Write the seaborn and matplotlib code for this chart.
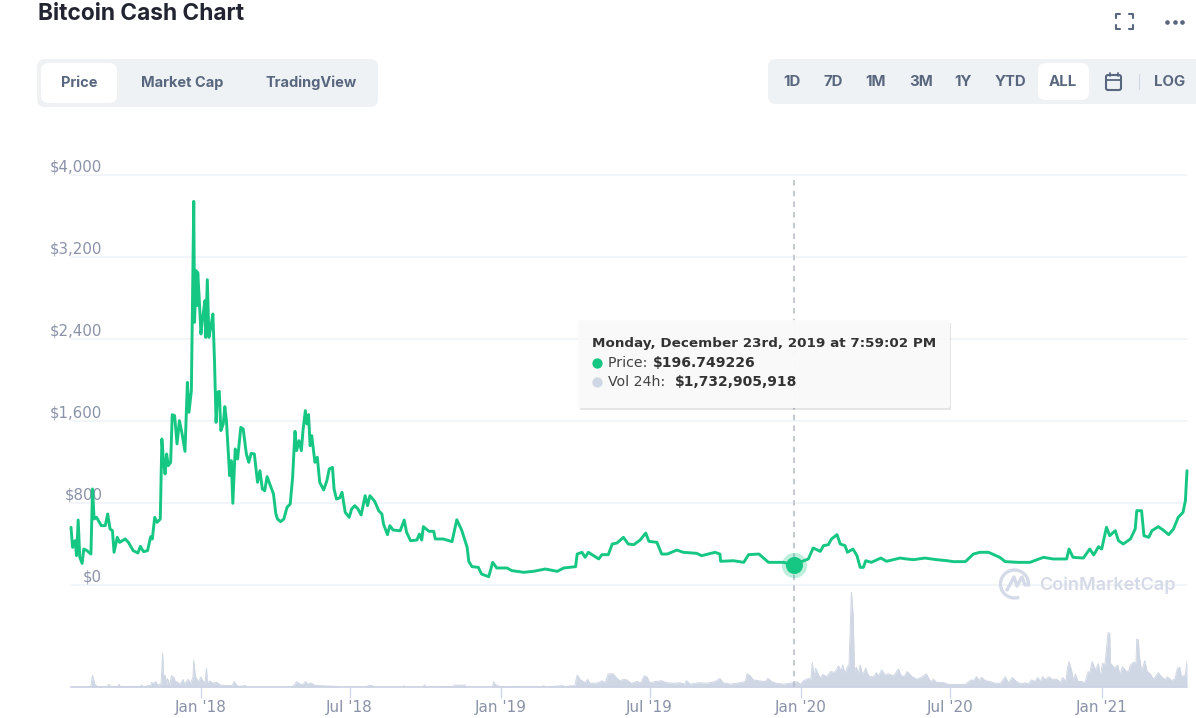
import pandas as pd
import numpy as np
import matplotlib.pyplot as plt
import seaborn as sns
from matplotlib.patches import FancyBboxPatch, Rectangle, Arc

# -------------------------------
# Data
# -------------------------------
START_DATE = "2017-07-27"
DAYS_PER_STEP = 0.97  # one step along the time axis of the lists below

price_steps = [
    0, 2, 5, 7, 9, 11, 14, 16, 20, 25, 27, 29, 32, 38, 43, 46, 49, 52, 54, 58, 61, 68, 72, 78, 84, 87, 91, 96,
    100, 102, 105, 108, 112, 114, 116, 118, 120, 122, 125, 127, 130, 133, 136, 139, 143, 146, 148, 151, 154,
    155, 157, 158, 159, 161, 163, 165, 168, 169, 171, 173, 175, 178, 180, 182, 184, 186, 188, 191, 193, 195,
    199, 201, 203, 206, 209, 213, 216, 220, 223, 226, 230, 234, 237, 240, 243, 246, 251, 254, 257, 259, 263,
    267, 271, 275, 278, 281, 283, 286, 289, 291, 294, 296, 298, 300, 302, 306, 309, 312, 317, 321, 324, 328,
    330, 333, 337, 340, 344, 349, 352, 356, 360, 364, 369, 372, 375, 381, 386, 390, 392, 397, 400, 404, 411,
    413, 418, 421, 426, 434, 437, 440, 442, 449, 455, 457, 467, 478, 484, 490, 497, 499, 503, 511, 515, 524,
    529, 534, 547, 553, 568, 580, 595, 610, 618, 633, 635, 641, 645, 649, 662, 666, 674, 679, 685, 693, 699,
    706, 714, 721, 725, 735, 741, 748, 760, 768, 785, 791, 808, 814, 815, 831, 844, 850, 863, 875, 894, 906,
    925, 931, 940, 944, 950, 954, 961, 965, 971, 974, 981, 986, 990, 994, 997, 1004, 1016, 1023, 1040, 1048,
    1057, 1071, 1086, 1099, 1107, 1122, 1132, 1140, 1151, 1165, 1172, 1188, 1203, 1220, 1232, 1249, 1252,
    1257, 1270, 1278, 1283, 1289, 1293, 1299, 1303, 1310, 1314, 1320, 1329, 1335, 1337, 1343, 1346, 1352,
    1356, 1364, 1370, 1377, 1383, 1389, 1395, 1398, 1400,
]
price_usd = [
    563, 367, 432, 286, 634, 270, 211, 351, 335, 302, 937, 644, 660, 579, 579, 693, 546, 530, 319, 465, 416,
    449, 416, 335, 312, 377, 325, 335, 472, 449, 660, 611, 644, 1424, 1213, 1083, 1278, 1164, 1197, 1662,
    1652, 1376, 1603, 1489, 1304, 1977, 1685, 1896, 3743, 2563, 3067, 2725, 3050, 2774, 2449, 2595, 2774,
    2416, 2979, 2416, 2498, 2644, 2189, 1587, 1880, 1889, 1506, 1571, 1740, 1603, 1067, 1213, 797, 1327,
    1229, 1538, 1522, 1278, 1197, 1285, 1278, 1002, 1115, 937, 920, 1057, 953, 888, 693, 644, 618, 644, 758,
    790, 1050, 1499, 1311, 1408, 1311, 1506, 1701, 1571, 1662, 1359, 1457, 1197, 1246, 1002, 927, 1018, 1132,
    1148, 937, 839, 849, 904, 709, 660, 741, 774, 741, 683, 872, 774, 872, 816, 725, 693, 595, 491, 579, 537,
    530, 530, 634, 514, 432, 439, 497, 439, 569, 524, 524, 449, 449, 423, 637, 537, 367, 231, 179, 172, 107,
    81, 221, 166, 166, 140, 124, 133, 156, 133, 166, 179, 302, 319, 270, 319, 254, 296, 296, 400, 410, 465,
    400, 393, 439, 507, 426, 416, 302, 302, 341, 319, 309, 286, 319, 302, 231, 237, 221, 296, 302, 221, 221,
    197, 254, 361, 328, 384, 393, 449, 491, 400, 384, 319, 351, 286, 172, 172, 237, 221, 263, 231, 263, 254,
    247, 263, 247, 237, 228, 228, 302, 319, 319, 270, 228, 221, 221, 270, 254, 254, 351, 270, 263, 351, 293,
    374, 351, 563, 481, 530, 433, 400, 449, 546, 725, 725, 481, 465, 530, 569, 537, 491, 546, 660, 709, 823,
    1115,
]

volume_steps_early = [
    0, 25, 27, 28, 30, 33, 46, 47, 50, 59, 60, 62, 87, 89, 90, 100, 101, 104, 106, 109, 113, 115, 116, 118,
    120, 121, 124, 126, 129, 131, 133, 136, 141, 142, 147, 150, 153, 154, 156, 160, 163, 165, 168, 170, 171,
    174, 178, 183, 187, 196, 202, 205, 207, 210, 219, 221, 277, 281, 283, 288, 291, 294, 297, 301, 306, 320,
    333, 338, 369, 374, 378, 380, 416, 417, 419, 442, 443, 446, 479, 482, 489, 494, 496, 529, 530, 532, 537,
    591, 593, 595, 618, 619,
]
volume_bn_early = [
    0.1, 0.1, 4.1, 2.9, 0.9, 0.2, 0.1, 0.9, 0.2, 0.2, 0.9, 0.2, 0.2, 0.7, 0.1, 0.6, 1.6, 1.2, 1.9, 0.6, 1.2,
    11.9, 4.2, 4.1, 0.9, 3.0, 0.6, 4.0, 3.3, 1.8, 1.9, 0.9, 2.6, 0.9, 2.7, 1.2, 3.5, 9.4, 3.7, 1.8, 3.5, 2.3,
    1.4, 6.6, 1.4, 2.1, 1.4, 1.6, 0.7, 0.5, 0.5, 1.9, 0.9, 0.2, 0.5, 0.0, 0.0, 0.9, 1.9, 0.9, 0.9, 1.9, 1.0,
    1.4, 0.6, 0.35, 0.2, 0.0, 0.1, 0.5, 0.5, 0.0, 0.0, 0.5, 0.0, 0.0, 0.7, 0.1, 0.2, 0.7, 0.6, 0.7, 0.0, 0.0,
    1.9, 0.9, 0.2, 0.1, 0.5, 0.0, 0.5, 0.0,
]
volume_steps_2019 = [
    626, 632, 635, 639, 645, 648, 651, 656, 662, 666, 670, 674, 680, 685, 689, 693, 697, 703, 710, 715, 719,
    723, 726, 733, 741, 747, 756, 764, 770, 772, 777, 787, 797, 808, 814, 818, 827, 835, 846, 848, 852, 856,
    862, 871, 874, 879, 885, 894,
]
volume_bn_2019 = [
    0.4, 0.4, 4.2, 2.5, 1.5, 2.7, 1.3, 1.3, 1.5, 2.2, 1.5, 4.6, 4.6, 3.0, 2.2, 2.7, 2.5, 1.3, 1.9, 1.5, 3.9,
    3.4, 1.5, 1.9, 2.2, 1.5, 1.3, 1.5, 1.0, 2.2, 1.0, 1.5, 1.3, 1.9, 3.0, 1.5, 1.0, 1.3, 1.9, 4.6, 3.9, 2.5,
    2.2, 1.9, 3.0, 1.9, 1.3, 1.0,
]
volume_steps_2020 = [
    902, 910, 915, 919, 925, 928, 930, 932, 934, 938, 940, 943, 948, 953, 958, 963, 966, 968, 971, 974, 976,
    979, 981, 983, 985, 988, 990, 993, 997, 999, 1002, 1007, 1010, 1013, 1017, 1021, 1025, 1032, 1038, 1041,
    1045, 1049, 1055, 1061, 1067, 1073, 1078, 1082, 1086, 1094, 1101, 1111, 1122, 1129, 1132, 1136, 1140,
    1142, 1147,
]
volume_bn_2020 = [
    1.3, 1.9, 1.0, 2.2, 3.0, 2.5, 8.5, 3.6, 6.6, 4.2, 3.0, 4.4, 3.6, 5.4, 5.1, 7.4, 5.4, 7.7, 4.8, 7.1, 7.7,
    33.2, 25.7, 5.4, 6.9, 4.8, 7.7, 4.2, 6.6, 4.8, 3.6, 3.6, 5.0, 3.9, 6.0, 4.2, 4.6, 3.9, 6.3, 4.2, 3.6,
    5.4, 3.6, 2.7, 3.4, 4.6, 1.9, 2.7, 1.6, 1.6, 0.9, 0.9, 0.9, 2.5, 2.2, 3.6, 2.2, 3.4, 2.2,
]
volume_steps_2021 = [
    1153, 1159, 1166, 1172, 1176, 1181, 1186, 1191, 1197, 1201, 1205, 1209, 1213, 1216, 1219, 1222, 1227, 1230,
    1237, 1241, 1244, 1248, 1250, 1252, 1255, 1258, 1260, 1263, 1268, 1272, 1276, 1278, 1281, 1285, 1289, 1291,
    1294, 1297, 1301, 1303, 1304, 1309, 1313, 1316, 1319, 1324, 1327, 1329, 1333, 1336, 1337, 1339, 1340, 1343,
    1347, 1350, 1354, 1358, 1362, 1364, 1368, 1373, 1375, 1381, 1385, 1388, 1391, 1393, 1398, 1400,
]
volume_bn_2021 = [
    1.9, 1.3, 1.3, 3.6, 1.5, 3.3, 1.9, 1.1, 1.5, 1.1, 2.5, 1.9, 3.3, 1.9, 3.6, 2.5, 3.6, 2.7, 2.7, 1.5, 3.3,
    1.9, 6.6, 8.9, 6.0, 1.9, 4.6, 1.9, 1.9, 1.5, 5.4, 4.8, 8.9, 6.0, 8.1, 3.6, 8.3, 7.7, 19.0, 18.8, 8.3, 6.6,
    7.7, 4.2, 7.1, 5.4, 5.7, 7.7, 8.7, 8.3, 16.7, 16.5, 11.2, 5.4, 9.2, 5.4, 4.6, 2.7, 4.2, 5.0, 3.6, 2.5, 3.6,
    2.2, 3.0, 6.6, 6.9, 3.6, 4.2, 8.9,
]

y_ticks = [0, 800, 1600, 2400, 3200, 4000]
y_tick_labels = ["$0", "$800", "$1,600", "$2,400", "$3,200", "$4,000"]
x_tick_dates = ["2018-01-01", "2018-07-01", "2019-01-01", "2019-07-01", "2020-01-01", "2020-07-01", "2021-01-01"]
x_tick_labels = ["Jan '18", "Jul '18", "Jan '19", "Jul '19", "Jan '20", "Jul '20", "Jan '21"]

hover_date = "2019-12-23 19:59:02"
hover_price = 196.749226

left_tabs = ["Price", "Market Cap", "TradingView"]
right_tabs = ["1D", "7D", "1M", "3M", "1Y", "YTD", "ALL"]

GREEN = "#16c784"
GRID = "#eff2f5"
SLATE = "#58667e"
VOL = "#cfd6e4"

# ------------------------------------------------
# Build the tables
# ------------------------------------------------
start = pd.Timestamp(START_DATE)
volume_steps = volume_steps_early + volume_steps_2019 + volume_steps_2020 + volume_steps_2021
volume_bn = volume_bn_early + volume_bn_2019 + volume_bn_2020 + volume_bn_2021
df_price = pd.DataFrame({
    "Date": start + pd.to_timedelta(np.array(price_steps) * DAYS_PER_STEP, unit="D"),
    "Price": price_usd,
})
df_vol = pd.DataFrame({
    "Date": start + pd.to_timedelta(np.array(volume_steps) * DAYS_PER_STEP, unit="D"),
    "Volume": volume_bn,
})
x_end = start + pd.Timedelta(days=1400 * DAYS_PER_STEP)

sns.set_theme(style="white")
plt.rcParams["font.family"] = ["DejaVu Sans"]

W, H = 1196, 718
fig = plt.figure(figsize=(W / 100, H / 100), dpi=100, facecolor="white")


def axes_from_pixels(x0, y0, x1, y1):
    return fig.add_axes([x0 / W, 1 - y1 / H, (x1 - x0) / W, (y1 - y0) / H])


# ------------------------------------------------
# Volume panel
# ------------------------------------------------
ax_vol = axes_from_pixels(71, 592, 1187, 687)
ax_vol.patch.set_alpha(0)
ax_vol.fill_between(df_vol["Date"], df_vol["Volume"], color=VOL, linewidth=0)
sns.lineplot(data=df_vol, x="Date", y="Volume", color=VOL, linewidth=0.7, ax=ax_vol)
ax_vol.set_xlim(start, x_end)
ax_vol.set_ylim(0, 33.2)
ax_vol.set_xlabel("")
ax_vol.set_ylabel("")
ax_vol.set_yticks([])
ax_vol.set_xticks(pd.to_datetime(x_tick_dates))
ax_vol.set_xticklabels(x_tick_labels)
ax_vol.tick_params(axis="x", length=8, width=0.9, color="#ccd6eb", pad=1.5, labelsize=11, labelcolor="#8a92a8", bottom=True)
sns.despine(ax=ax_vol, left=True)
ax_vol.spines["bottom"].set_color("#ccd3e3")
ax_vol.spines["bottom"].set_linewidth(1.2)

# ------------------------------------------------
# Price panel
# ------------------------------------------------
ax = axes_from_pixels(71, 175, 1187, 585)
ax.patch.set_alpha(0)
sns.lineplot(data=df_price, x="Date", y="Price", color=GREEN, linewidth=2.1, ax=ax, zorder=4, clip_on=False)
ax.set_xlim(start, x_end)
ax.set_ylim(0, 4000)
ax.set_xlabel("")
ax.set_ylabel("")
ax.set_xticks([])
ax.set_yticks(y_ticks)
ax.set_yticklabels(y_tick_labels)
ax.yaxis.grid(True, color=GRID, linewidth=1.1)
ax.tick_params(axis="y", length=0, pad=-22.5, labelsize=10.8, labelcolor="#8a92a8")
for label in ax.get_yticklabels():
    label.set_va("bottom")
sns.despine(ax=ax, left=True, bottom=True)
for line in ax.get_ygridlines():
    line.set_clip_on(False)

# crosshair runs down to the volume baseline, under the marker
hover_x = pd.Timestamp(hover_date)
ax.axvline(hover_x, ymin=-102 / 410, ymax=1, color="#b9bfce", lw=1.2, ls=(0, (3.4, 3)), zorder=3, clip_on=False)
ax.scatter([hover_x], [hover_price], s=330, color=GREEN, alpha=0.28, linewidths=0, zorder=5, clip_on=False)
ax.scatter([hover_x], [hover_price], s=150, color=GREEN, linewidths=0, zorder=6, clip_on=False)

# ------------------------------------------------
# Page overlay (pixel coordinates)
# ------------------------------------------------
ui = fig.add_axes([0, 0, 1, 1], zorder=10)
ui.set_xlim(0, W)
ui.set_ylim(H, 0)
ui.axis("off")
ui.patch.set_alpha(0)


def round_box(x0, y0, x1, y1, color, radius=8, z=1):
    ui.add_patch(FancyBboxPatch((x0 + radius, y0 + radius), x1 - x0 - 2 * radius, y1 - y0 - 2 * radius,
                                boxstyle=f"round,pad={radius},rounding_size={radius}",
                                facecolor=color, edgecolor="none", zorder=z))


ui.text(38, 14, "Bitcoin Cash Chart", family="Inter", fontsize=16.35, fontweight="bold", color="#222531", va="center")

# left tab group
round_box(37, 59, 378, 107, GRID)
round_box(41, 63, 117, 103, "white", z=2)
for name, cx in zip(left_tabs, [79, 182, 311]):
    ui.text(cx, 83, name, family="Inter", fontsize=10.5, fontweight="bold", color=SLATE, ha="center", va="center", zorder=3)

# right tab group
round_box(768, 59, 1204, 104, GRID)
round_box(1038, 63, 1089, 100, "white", z=2)
for name, cx in zip(right_tabs, [792, 833, 876, 921, 963, 1011, 1063]):
    ui.text(cx, 82, name, family="Inter", fontsize=10.8, fontweight="bold", color=SLATE, ha="center", va="center", zorder=3)
ui.text(1170, 82, "LOG", family="Inter", fontsize=10.8, fontweight="bold", color=SLATE, ha="center", va="center", zorder=3)
ui.plot([1139, 1139], [74, 89], color="#cfd6e4", lw=0.8, zorder=3)

# calendar icon
ui.add_patch(FancyBboxPatch((1106, 75), 15, 15, boxstyle="round,pad=0,rounding_size=2", facecolor="none", edgecolor=SLATE, lw=1.5, zorder=3))
ui.plot([1106, 1121], [80, 80], color=SLATE, lw=1.3, zorder=3)
ui.plot([1109.5, 1109.5], [72.5, 76], color=SLATE, lw=1.3, zorder=3)
ui.plot([1117.5, 1117.5], [72.5, 76], color=SLATE, lw=1.3, zorder=3)

# fullscreen icon and the three dots
for cx, cy, dx, dy in [(1116, 14, 1, 1), (1133, 14, -1, 1), (1116, 29, 1, -1), (1133, 29, -1, -1)]:
    ui.plot([cx + 4 * dx, cx, cx], [cy, cy, cy + 4 * dy], color=SLATE, lw=1.5, zorder=3)
ui.scatter([1167, 1174.5, 1182], [21.5, 21.5, 21.5], s=11, color=SLATE, linewidths=0, zorder=3)

# tooltip
ui.add_patch(Rectangle((580, 323), 371, 87, facecolor="#000000", alpha=0.10, edgecolor="none", zorder=2))
ui.add_patch(FancyBboxPatch((578, 320), 372, 88, boxstyle="round,pad=0,rounding_size=2", facecolor="#fafafa", alpha=0.96, edgecolor="none", zorder=3))
ui.text(592, 343, "Monday, December 23rd, 2019 at 7:59:02 PM", fontsize=9.7, fontweight="bold", color="#333333", va="center", zorder=4)
ui.scatter([597], [363], s=55, color=GREEN, linewidths=0, zorder=4)
ui.text(608, 363, "Price: ", fontsize=10.2, color="#444444", va="center", zorder=4)
ui.text(653, 363, "$196.749226", fontsize=10.1, fontweight="bold", color="#333333", va="center", zorder=4)
ui.scatter([597], [382], s=55, color="#cfd6e4", linewidths=0, zorder=4)
ui.text(608, 382, "Vol 24h: ", fontsize=10.2, color="#444444", va="center", zorder=4)
ui.text(675, 382, "$1,732,905,918", fontsize=10.0, fontweight="bold", color="#333333", va="center", zorder=4)

# watermark
mark = "#d5dae8"
ui.add_patch(Arc((1014.5, 584), 28, 28, theta1=70, theta2=370, color=mark, lw=2.4, zorder=3))
ui.plot([1007, 1014, 1017, 1022, 1025, 1028], [590, 577, 586, 577, 585, 584], color=mark, lw=2.4, zorder=3, solid_joinstyle="round")
ui.text(1039, 585, "CoinMarketCap", family="Inter", fontsize=13, fontweight="semibold", color=mark, va="center", zorder=3)

fig.savefig("out.png", dpi=100)
